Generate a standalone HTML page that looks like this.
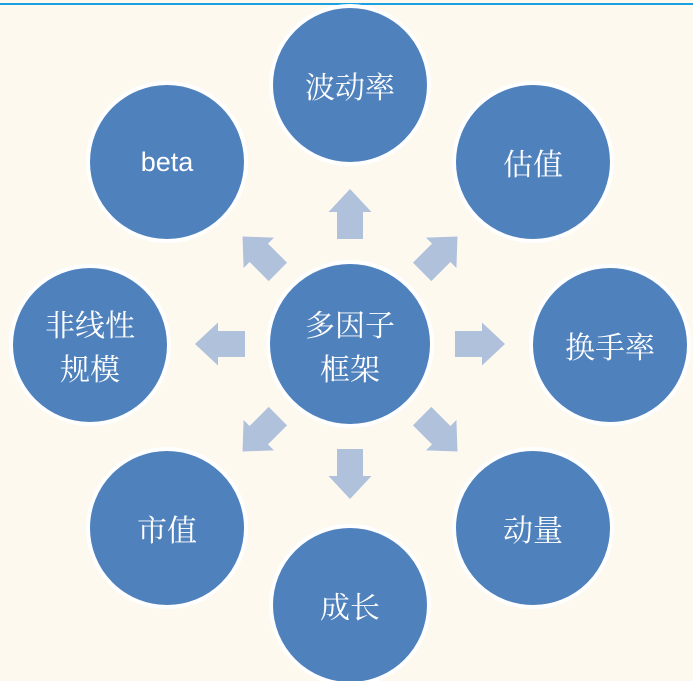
<!DOCTYPE html>
<html><head><meta charset="utf-8"><style>
html,body{margin:0;padding:0;background:#fdf9ef;}
svg{display:block}
text{font-family:"Noto Serif CJK SC","Noto Serif CJK SC",serif;fill:#fff;font-size:30px;text-anchor:middle;dominant-baseline:central}
</style></head><body>
<svg width="693" height="681" viewBox="0 0 693 681">
<rect width="693" height="681" fill="#fdf9ef"/>
<rect x="0" y="3" width="693" height="2" fill="#1ba1e2"/>
<defs>
<polygon id="ar" points="-13,0 13,0 13,-27 21.5,-27 0,-50 -21.5,-27 -13,-27" fill="#b0c1dc"/>
</defs>
<g transform="translate(350,344)">
<use href="#ar" transform="translate(0,-105)"/>
<use href="#ar" transform="rotate(45) translate(0,-102)"/>
<use href="#ar" transform="rotate(90) translate(0,-105)"/>
<use href="#ar" transform="rotate(135) translate(0,-102)"/>
<use href="#ar" transform="rotate(180) translate(0,-105)"/>
<use href="#ar" transform="rotate(225) translate(0,-102)"/>
<use href="#ar" transform="rotate(270) translate(0,-105)"/>
<use href="#ar" transform="rotate(315) translate(0,-102)"/>
</g>
<g fill="#4f81bd" stroke="#fff" stroke-width="4">
<circle cx="350" cy="344" r="82"/>
<circle cx="350" cy="85" r="79"/>
<circle cx="533" cy="162" r="79"/>
<circle cx="610" cy="345" r="79"/>
<circle cx="533" cy="528" r="79"/>
<circle cx="350" cy="605" r="79"/>
<circle cx="167" cy="528" r="79"/>
<circle cx="90" cy="345" r="79"/>
<circle cx="167" cy="162" r="79"/>
</g>
<text x="350" y="323">多因子</text>
<text x="350" y="367">框架</text>
<text x="350" y="85">波动率</text>
<text x="533" y="162">估值</text>
<text x="610" y="345">换手率</text>
<text x="533" y="528">动量</text>
<text x="350" y="605">成长</text>
<text x="167" y="528">市值</text>
<text x="90" y="323">非线性</text>
<text x="90" y="367">规模</text>
<text x="167" y="162" style="font-family:'Liberation Sans',sans-serif;font-size:27px">beta</text>
</svg>
</body></html>
